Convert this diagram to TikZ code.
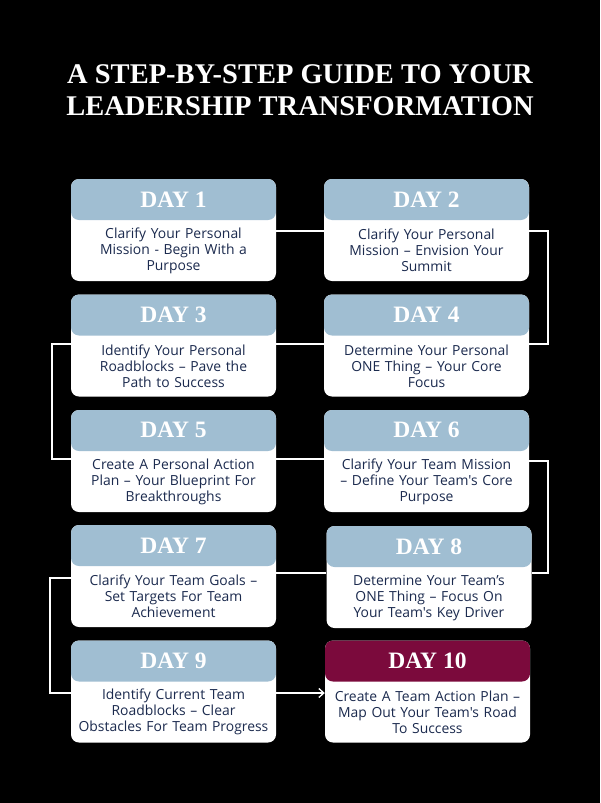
\documentclass[tikz,border=0pt]{standalone}
\usepackage{fontspec}
\setmainfont{Liberation Serif}
\newfontfamily\bodyfont{Open Sans}
\usetikzlibrary{arrows.meta}
\definecolor{hdrblue}{HTML}{A0BED2}
\definecolor{hdrred}{HTML}{7B0A3C}
\definecolor{navy}{HTML}{1B2A4E}
\tikzset{
  card/.style={draw=none, fill=white, rounded corners=8pt, minimum width=205pt, minimum height=102pt, inner sep=0pt,
    path picture={\fill[#1] (path picture bounding box.north west) rectangle ([yshift=-41pt]path picture bounding box.north east);}},
  daylabel/.style={text=white, font=\bfseries\fontsize{23.5}{25}\selectfont},
  bodytext/.style={text=navy, align=center, text width=200pt, font=\bodyfont\fontsize{13.9}{16}\selectfont},
  link/.style={draw=white, line width=1.3pt},
}
\newcommand{\mkcard}[6]{%
  \node[card=#4] (#1) at (#2,#3) {};
  \node[daylabel] (#1t) at ([yshift=-20.5pt]#1.north) {#5};
  \node[bodytext] (#1b) at ([yshift=30.5pt]#1.south) {#6};
}
\begin{document}
\begin{tikzpicture}[x=1pt,y=-1pt]
\fill[black] (0,0) rectangle (600,803);
\useasboundingbox (0,0) rectangle (600,803);
\node[text=white, align=center, font=\bfseries\fontsize{28.5}{32}\selectfont] (title) at (300,90) {A STEP-BY-STEP GUIDE TO YOUR\\LEADERSHIP TRANSFORMATION};
\mkcard{d1}{173.5}{230}{hdrblue}{DAY 1}{Clarify Your Personal\\Mission - Begin With a\\Purpose}
\mkcard{d2}{426.5}{230}{hdrblue}{DAY 2}{Clarify Your Personal\\Mission – Envision Your\\Summit}
\mkcard{d3}{173.5}{345.5}{hdrblue}{DAY 3}{Identify Your Personal\\Roadblocks – Pave the\\Path to Success}
\mkcard{d4}{426.5}{345.5}{hdrblue}{DAY 4}{Determine Your Personal\\ONE Thing – Your Core\\Focus}
\mkcard{d5}{173.5}{461}{hdrblue}{DAY 5}{Create A Personal Action\\Plan – Your Blueprint For\\Breakthroughs}
\mkcard{d6}{426.5}{461}{hdrblue}{DAY 6}{Clarify Your Team Mission\\– Define Your Team's Core\\Purpose}
\mkcard{d7}{173.5}{576}{hdrblue}{DAY 7}{Clarify Your Team Goals –\\Set Targets For Team\\Achievement}
\mkcard{d8}{429}{577}{hdrblue}{DAY 8}{Determine Your Team’s\\ONE Thing – Focus On\\Your Team's Key Driver}
\mkcard{d9}{173.5}{691.5}{hdrblue}{DAY 9}{Identify Current Team\\Roadblocks – Clear\\Obstacles For Team Progress}
\mkcard{d10}{427.5}{691.5}{hdrred}{DAY 10}{Create A Team Action Plan –\\Map Out Your Team's Road\\To Success}
\coordinate (c1) at (548,231);
\coordinate (c2) at (548,344);
\coordinate (c3) at (52,344);
\coordinate (c4) at (52,459);
\coordinate (c5) at (548,461);
\coordinate (c6) at (548,573);
\coordinate (c7) at (50,578);
\coordinate (c8) at (50,693);
\draw[link] (d1.east |- c1) -- (d2.west |- c1);
\draw[link] (d2.east |- c1) -- (c1) -- (c2) -- (d4.east |- c2);
\draw[link] (d4.west |- c2) -- (d3.east |- c2);
\draw[link] (d3.west |- c3) -- (c3) -- (c4) -- (d5.west |- c4);
\draw[link] (d5.east |- c4) -- (d6.west |- c4);
\draw[link] (d6.east |- c5) -- (c5) -- (c6) -- (d8.east |- c6);
\draw[link] (d8.west |- c6) -- (d7.east |- c6);
\draw[link] (d7.west |- c7) -- (c7) -- (c8) -- (d9.west |- c8);
\draw[link, -{Straight Barb[length=5pt,width=9pt]}] (d9.east |- c8) -- (d10.west |- c8);
\end{tikzpicture}
\end{document}
